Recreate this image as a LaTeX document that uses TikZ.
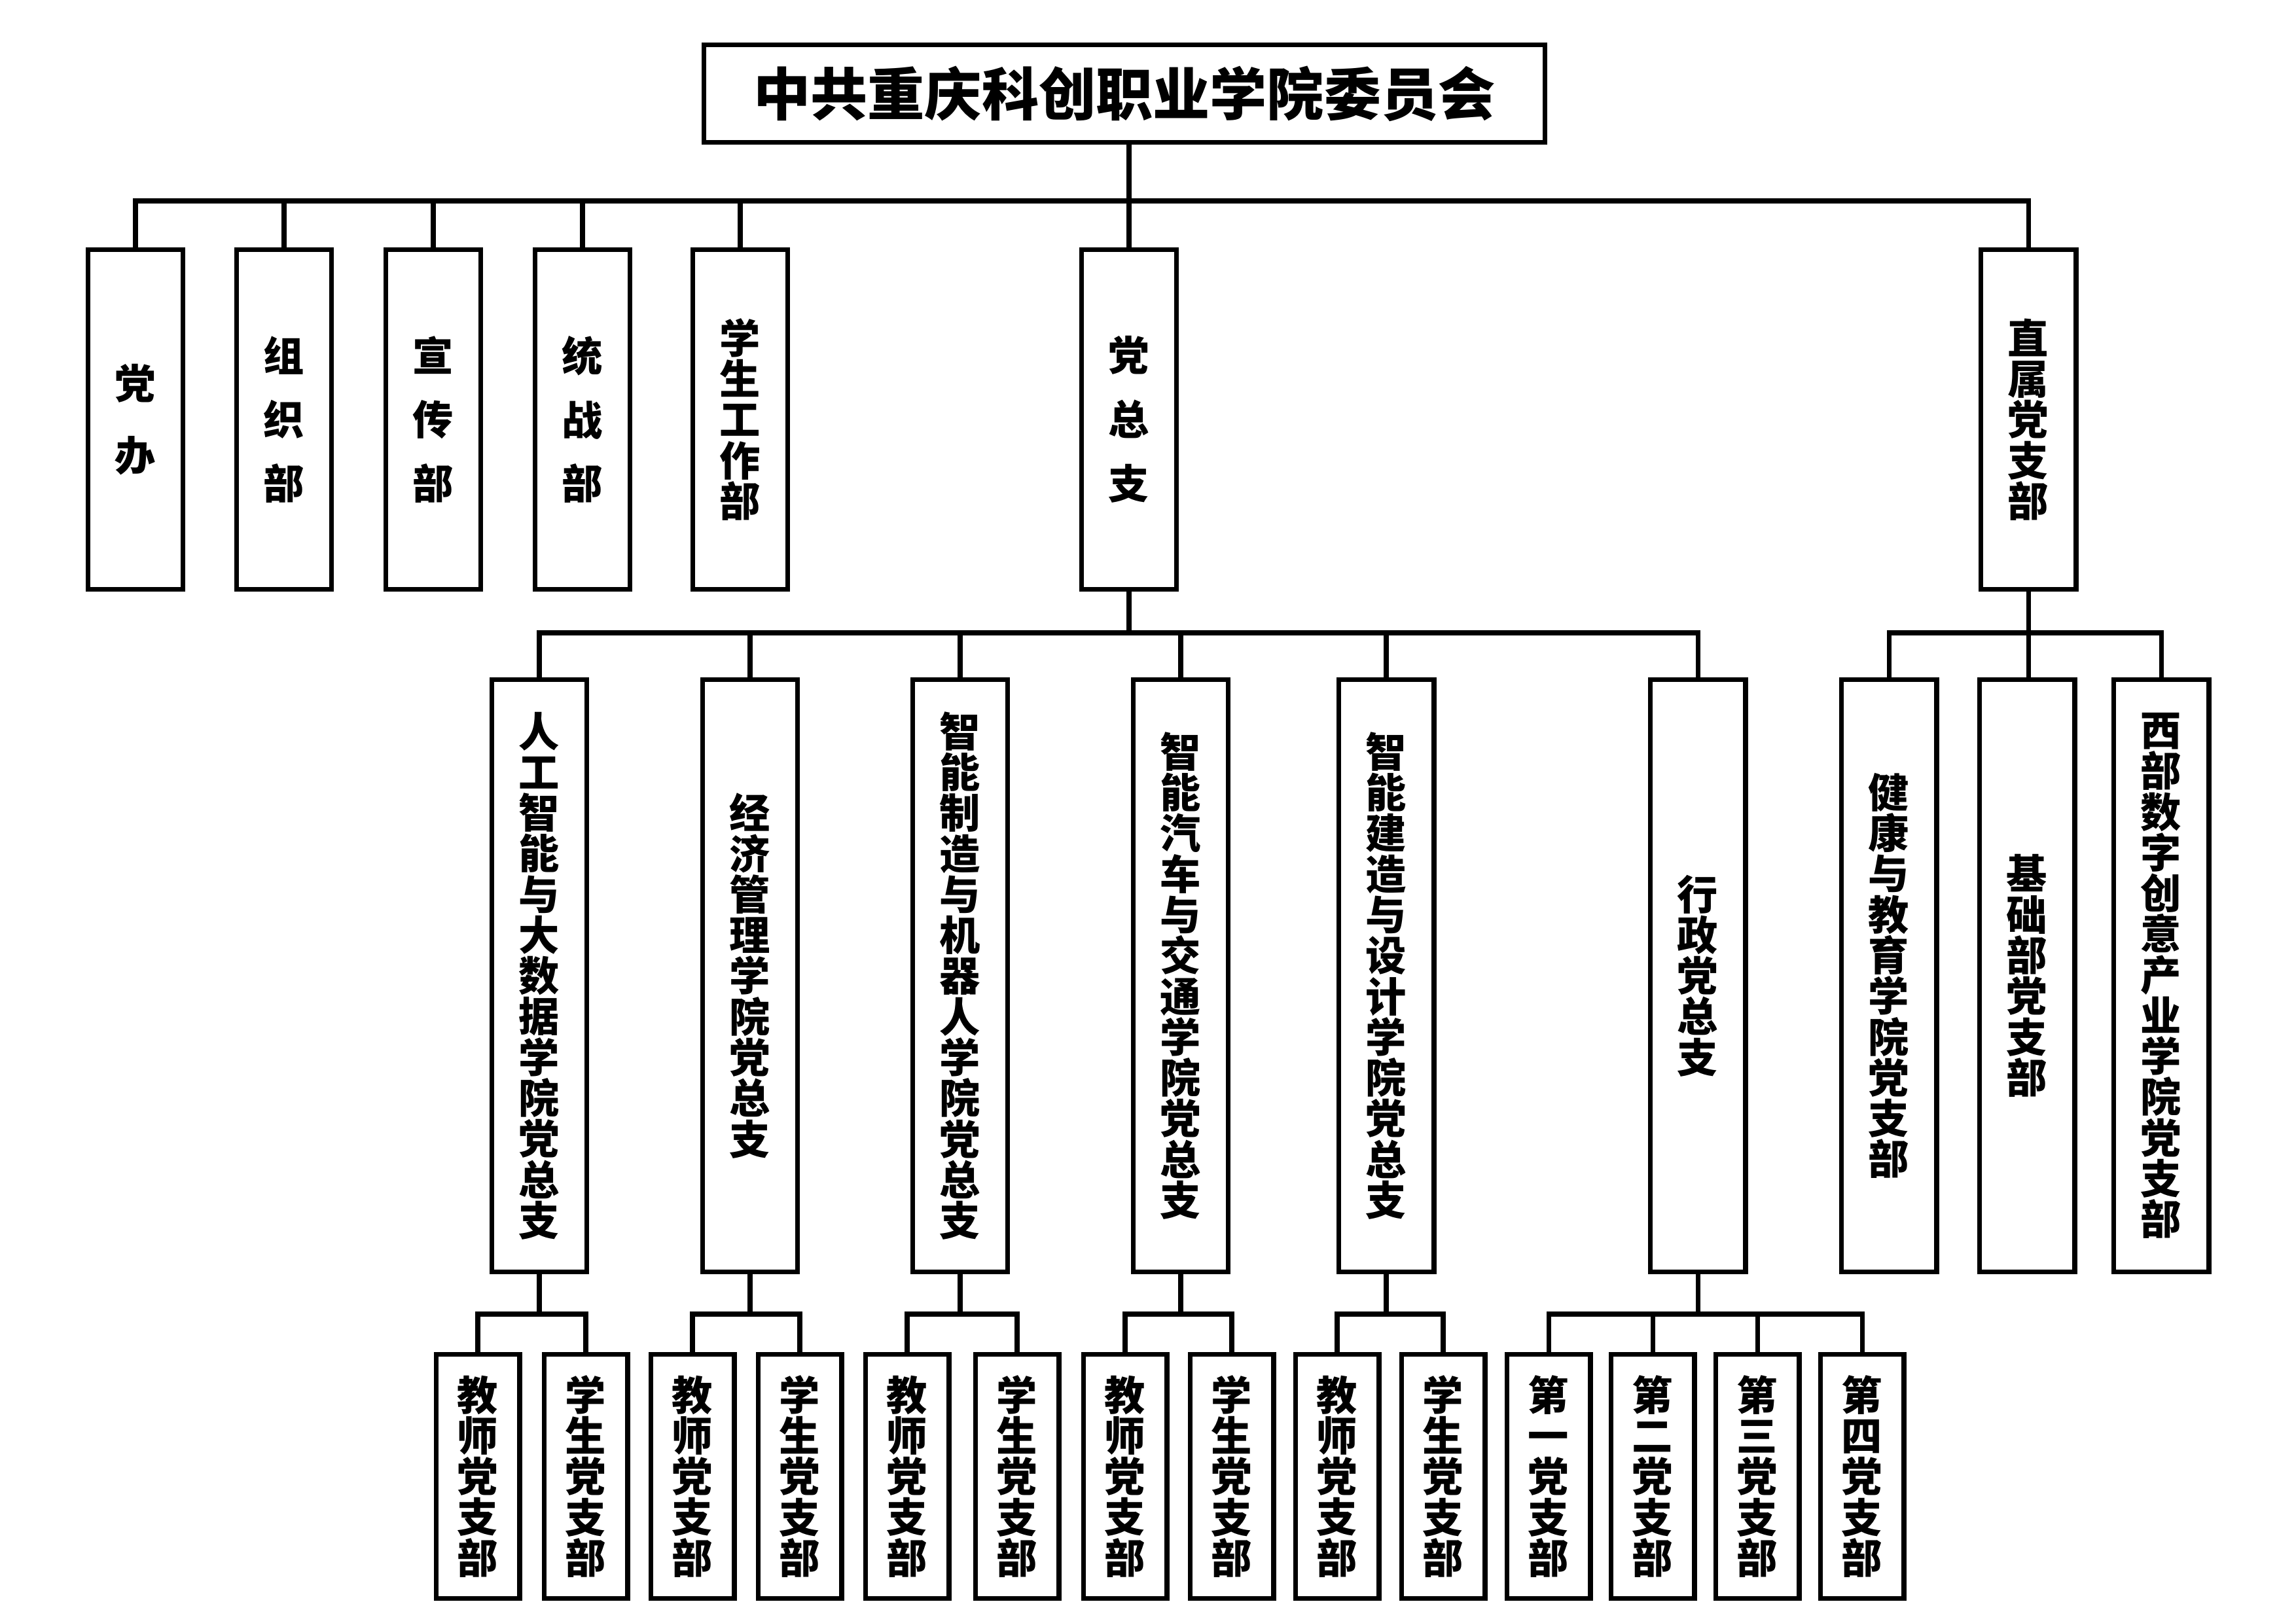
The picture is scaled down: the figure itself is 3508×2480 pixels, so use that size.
\documentclass[tikz,border=0pt]{standalone}
\usepackage{fontspec}
\newfontfamily\cjk{Noto Sans CJK SC}
\begin{document}
\begin{tikzpicture}[x=0.08466mm, y=-0.08466mm,
	box/.style={draw, line width=1.7pt, inner sep=0pt, align=center, font=\cjk\bfseries\fontsize{15pt}{15pt}\selectfont},
	topbox/.style={box, minimum width=12.35mm, minimum height=43.9mm},
	midbox/.style={box, minimum width=12.35mm, minimum height=76.6mm},
	lowbox/.style={box, minimum width=10.83mm, minimum height=31.5mm},
	conn/.style={line width=1.7pt}]
	
	\useasboundingbox (0,0) rectangle (3508,2480);
	
	\node[box, minimum width=108.8mm, minimum height=12.6mm, font=\cjk\bfseries\fontsize{21pt}{21pt}\selectfont] (cpc) at (1718,143) {中共重庆科创职业学院委员会};
	
	\node[topbox] (dangban) at (207,641) {党\\[4mm]办};
	\node[topbox] (zuzhi) at (434,641) {组\\[3mm]织\\[3mm]部};
	\node[topbox] (xuanchuan) at (662,641) {宣\\[3mm]传\\[3mm]部};
	\node[topbox] (tongzhan) at (890,641) {统\\[3mm]战\\[3mm]部};
	\node[topbox] (xuegong) at (1131,641) {学\\生\\工\\作\\部};
	\node[topbox] (dzz) at (1725,641) {党\\[3mm]总\\[3mm]支};
	\node[topbox] (zhishu) at (3099,641) {直\\属\\党\\支\\部};
	
	\node[midbox] (rgzn) at (824,1491) {人\\工\\智\\能\\与\\大\\数\\据\\学\\院\\党\\总\\支};
	\node[midbox] (jjgl) at (1146,1491) {经\\济\\管\\理\\学\\院\\党\\总\\支};
	\node[midbox] (znzz) at (1467,1491) {智\\能\\制\\造\\与\\机\\器\\人\\学\\院\\党\\总\\支};
	\node[midbox] (znqc) at (1804,1491) {智\\能\\汽\\车\\与\\交\\通\\学\\院\\党\\总\\支};
	\node[midbox] (znjz) at (2118,1491) {智\\能\\建\\造\\与\\设\\计\\学\\院\\党\\总\\支};
	\node[midbox] (xingzheng) at (2594,1491) {行\\政\\党\\总\\支};
	\node[midbox] (jiankang) at (2886,1491) {健\\康\\与\\教\\育\\学\\院\\党\\支\\部};
	\node[midbox] (jichu) at (3097,1491) {基\\础\\部\\党\\支\\部};
	\node[midbox] (xibu) at (3302,1491) {西\\部\\数\\字\\创\\意\\产\\业\\学\\院\\党\\支\\部};
	
	\node[lowbox] (rgznjs) at (730,2256) {教\\师\\党\\支\\部};
	\node[lowbox] (rgznxs) at (895,2256) {学\\生\\党\\支\\部};
	\node[lowbox] (jjgljs) at (1058,2256) {教\\师\\党\\支\\部};
	\node[lowbox] (jjglxs) at (1222,2256) {学\\生\\党\\支\\部};
	\node[lowbox] (znzzjs) at (1386,2256) {教\\师\\党\\支\\部};
	\node[lowbox] (znzzxs) at (1554,2256) {学\\生\\党\\支\\部};
	\node[lowbox] (znqcjs) at (1719,2256) {教\\师\\党\\支\\部};
	\node[lowbox] (znqcxs) at (1882,2256) {学\\生\\党\\支\\部};
	\node[lowbox] (znjzjs) at (2043,2256) {教\\师\\党\\支\\部};
	\node[lowbox] (znjzxs) at (2205,2256) {学\\生\\党\\支\\部};
	\node[lowbox] (xz1) at (2366,2256) {第\\一\\党\\支\\部};
	\node[lowbox] (xz2) at (2525,2256) {第\\二\\党\\支\\部};
	\node[lowbox] (xz3) at (2685,2256) {第\\三\\党\\支\\部};
	\node[lowbox] (xz4) at (2845,2256) {第\\四\\党\\支\\部};
	
	\coordinate (bus1) at (0,307);
	\coordinate (bus2) at (0,967);
	\coordinate (bus3) at (0,2008);
	
	\draw[conn] (cpc.south -| dzz.north) -- (dzz.north);
	\draw[conn] (dangban.north) |- (zhishu.north |- bus1) -- (zhishu.north);
	\foreach \n in {zuzhi,xuanchuan,tongzhan,xuegong}
		\draw[conn] (\n.north) -- (\n.north |- bus1);
	
	\draw[conn] (dzz.south) -- (dzz.south |- bus2);
	\draw[conn] (rgzn.north) |- (xingzheng.north |- bus2) -- (xingzheng.north);
	\foreach \n in {jjgl,znzz,znqc,znjz}
		\draw[conn] (\n.north) -- (\n.north |- bus2);
	\draw[conn] (zhishu.south) -- (zhishu.south |- jichu.north);
	\draw[conn] (jiankang.north) |- (xibu.north |- bus2) -- (xibu.north);
	
	\foreach \n in {rgzn,jjgl,znzz,znqc,znjz}{
		\draw[conn] (\n.south) -- (\n.south |- bus3);
		\draw[conn] (\n js.north) |- (\n xs.north |- bus3) -- (\n xs.north);
	}
	\draw[conn] (xingzheng.south) -- (xingzheng.south |- bus3);
	\draw[conn] (xz1.north) |- (xz4.north |- bus3) -- (xz4.north);
	\draw[conn] (xz2.north) -- (xz2.north |- bus3);
	\draw[conn] (xz3.north) -- (xz3.north |- bus3);
\end{tikzpicture}
\end{document}
